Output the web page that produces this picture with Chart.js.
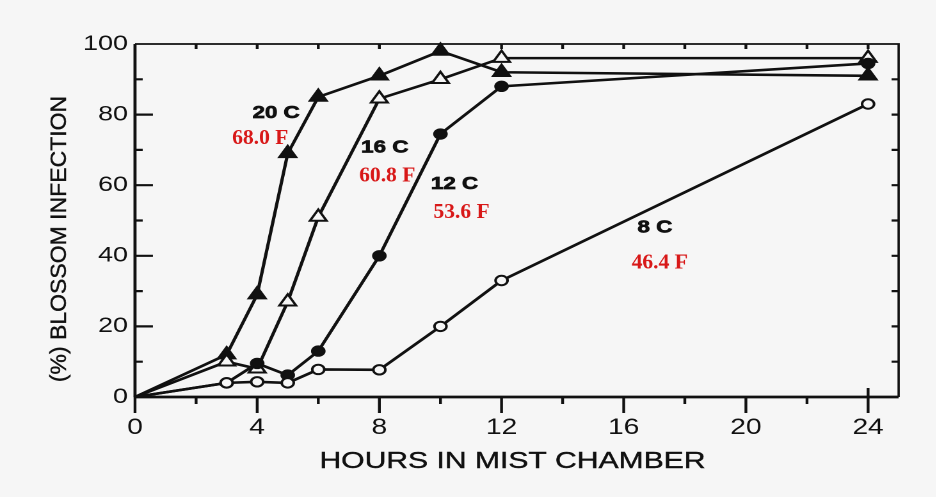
<!DOCTYPE html>
<html>
<head>
<meta charset="utf-8">
<title>Blossom infection vs hours in mist chamber</title>
<script src="https://cdn.jsdelivr.net/npm/chart.js@4.4.1/dist/chart.umd.min.js"></script>
<style>
	html, body { margin: 0; padding: 0; background: #f6f6f6; overflow: hidden; }
	/* the original figure is stretched sideways, so the chart is drawn narrow and scaled */
	#wrap { position: absolute; left: 0; top: 0; width: 731.25px; height: 497px; transform: scaleX(1.28); transform-origin: 0 0; }
</style>
</head>
<body>
<div id="wrap"><canvas id="infectionChart"></canvas></div>
<script>
	const STRETCH = 1.28;

	// hours in the mist chamber (same for every temperature)
	const hours = [0, 3, 4, 5, 6, 8, 10, 12, 24];

	// % blossom infection
	const infect20C = [0, 12, 29, 69, 85, 91, 98, 92, 91];
	const infect16C = [0, 10, 8, 27, 51, 84.5, 90, 96, 96];
	const infect12C = [0, 4, 9.5, 6.2, 13, 40, 74.5, 88, 94.5];
	const infect8C = [0, 4, 4.3, 4, 7.8, 7.7, 20, 33, 83];

	const xTicks = [0, 4, 8, 12, 16, 20, 24];
	const yTicks = [0, 20, 40, 60, 80, 100];

	// curve labels: text, hours, percent
	const celsiusLabels = [['20 C', 4.62, 80.4], ['16 C', 8.18, 70.7], ['12 C', 10.46, 60.3], ['8 C', 17.02, 47.9]];
	const fahrenheitLabels = [['68.0 F', 4.10, 73.2], ['60.8 F', 8.26, 62.6], ['53.6 F', 10.69, 52.3], ['46.4 F', 17.18, 38.0]];

	const ink = '#111111';
	const paper = '#f6f6f6';
	const red = '#d81818';

	const toPoints = (values) => hours.map((h, i) => ({x: h, y: values[i]}));

	const makeSet = (label, values, style, filled, radius) => ({
		label: label,
		data: toPoints(values),
		borderColor: ink,
		borderWidth: 2.6,
		tension: 0,
		clip: false,
		pointStyle: style,
		pointRadius: (c) => c.dataIndex === 0 ? 0 : radius,
		pointBorderWidth: 2,
		pointBorderColor: ink,
		pointBackgroundColor: filled ? ink : paper,
	});

	// frame, tick marks and axis titles, drawn from the scales
	const figureFrame = {
		id: 'figureFrame',
		beforeDatasetsDraw(chart) {
			const {ctx, chartArea: a, scales: {x, y}} = chart;
			ctx.save();
			ctx.strokeStyle = ink;
			ctx.lineCap = 'butt';

			ctx.lineWidth = 1.8;
			ctx.beginPath();
			ctx.moveTo(a.left, a.top);
			ctx.lineTo(a.right, a.top);
			ctx.lineTo(a.right, a.bottom);
			ctx.stroke();

			ctx.lineWidth = 2.4;
			ctx.beginPath();
			ctx.moveTo(a.left, a.top);
			ctx.lineTo(a.left, a.bottom);
			ctx.stroke();
			ctx.lineWidth = 2.8;
			ctx.beginPath();
			ctx.moveTo(a.left - 1, a.bottom);
			ctx.lineTo(a.right, a.bottom);
			ctx.stroke();

			ctx.lineWidth = 2.2;
			ctx.beginPath();
			for (let v = 10; v < 100; v += 10) {
				const py = y.getPixelForValue(v);
				ctx.moveTo(a.left, py);
				ctx.lineTo(a.left + (v % 20 === 0 ? 14 : 6), py);
				ctx.moveTo(a.right, py);
				ctx.lineTo(a.right - 5.5, py);
			}
			for (let h = 0; h <= 24; h += 2) {
				const px = x.getPixelForValue(h);
				ctx.moveTo(px, a.bottom);
				ctx.lineTo(px, a.bottom + (h % 4 === 0 ? 16 : 7));
				if (h > 0) {
					ctx.moveTo(px, a.top);
					ctx.lineTo(px, a.top + 5);
				}
			}
			const p24 = x.getPixelForValue(24);
			ctx.moveTo(p24, a.bottom);
			ctx.lineTo(p24, a.bottom - 9);
			ctx.stroke();

			ctx.fillStyle = ink;
			ctx.strokeStyle = ink;
			ctx.lineWidth = 0.4;
			ctx.textAlign = 'center';
			ctx.textBaseline = 'middle';
			ctx.font = '23.5px "Liberation Sans", Arial, sans-serif';
			ctx.fillText('HOURS IN MIST CHAMBER', 512.5 / STRETCH, 461.5);
			ctx.strokeText('HOURS IN MIST CHAMBER', 512.5 / STRETCH, 461.5);

			ctx.save();
			ctx.translate(59.5 / STRETCH, 239);
			ctx.scale(1 / STRETCH, 1);
			ctx.rotate(-Math.PI / 2);
			ctx.font = '23px "Liberation Sans", Arial, sans-serif';
			ctx.fillText('(%) BLOSSOM INFECTION', 0, 0);
			ctx.strokeText('(%) BLOSSOM INFECTION', 0, 0);
			ctx.restore();
			ctx.restore();
		},
		afterDatasetsDraw(chart) {
			const {ctx, scales: {x, y}} = chart;
			ctx.save();
			ctx.textAlign = 'center';
			ctx.textBaseline = 'middle';
			ctx.fillStyle = ink;
			ctx.strokeStyle = ink;
			ctx.lineWidth = 0.7;
			ctx.font = 'bold 17.5px "Liberation Sans", Arial, sans-serif';
			celsiusLabels.forEach(([t, h, p]) => {
				ctx.fillText(t, x.getPixelForValue(h), y.getPixelForValue(p));
				ctx.strokeText(t, x.getPixelForValue(h), y.getPixelForValue(p));
			});
			ctx.fillStyle = red;
			ctx.font = 'bold 21.5px "Liberation Serif", "Times New Roman", serif';
			fahrenheitLabels.forEach(([t, h, p]) => {
				ctx.save();
				ctx.translate(x.getPixelForValue(h), y.getPixelForValue(p));
				ctx.scale(1 / STRETCH, 1);
				ctx.fillText(t, 0, 0);
				ctx.restore();
			});
			ctx.restore();
		}
	};

	new Chart(document.getElementById('infectionChart'), {
		type: 'line',
		data: {
			datasets: [
				makeSet('8 C', infect8C, 'circle', false, 4.7),
				makeSet('12 C', infect12C, 'circle', true, 4.7),
				makeSet('16 C', infect16C, 'triangle', false, 7.5),
				makeSet('20 C', infect20C, 'triangle', true, 7.5),
			]
		},
		options: {
			responsive: true,
			maintainAspectRatio: false,
			animation: false,
			devicePixelRatio: 2,
			layout: {padding: {left: 0, top: 44, right: 29.25, bottom: 0}},
			plugins: {
				legend: {display: false},
				tooltip: {enabled: false},
			},
			scales: {
				x: {
					type: 'linear',
					min: 0,
					max: 25,
					grid: {display: false, drawTicks: false},
					border: {display: false},
					afterBuildTicks: (s) => { s.ticks = xTicks.map(v => ({value: v})); },
					afterFit: (s) => { s.height = 100; },
					ticks: {
						autoSkip: false,
						maxRotation: 0,
						padding: 17.5,
						color: ink,
						font: {family: '"Liberation Sans", Arial, sans-serif', size: 22},
					},
				},
				y: {
					min: 0,
					max: 100,
					grid: {display: false, drawTicks: false},
					border: {display: false},
					afterBuildTicks: (s) => { s.ticks = yTicks.map(v => ({value: v})); },
					afterFit: (s) => { s.width = 135 / STRETCH; },
					ticks: {
						autoSkip: false,
						padding: 5.5,
						color: ink,
						font: {family: '"Liberation Sans", Arial, sans-serif', size: 21},
					},
				},
			},
		},
		plugins: [figureFrame],
	});
</script>
</body>
</html>
